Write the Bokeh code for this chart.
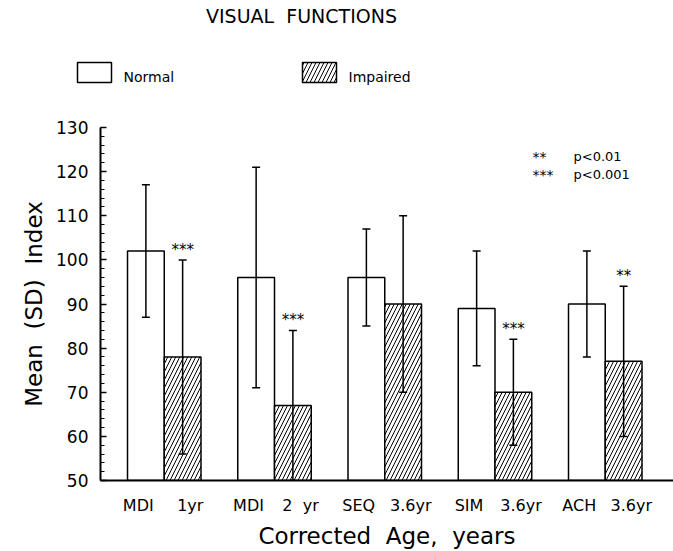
from bokeh.plotting import figure
from bokeh.layouts import column
from bokeh.models import (ColumnDataSource, Whisker, TeeHead, Label, FixedTicker, Range1d)
from bokeh.core.properties import value
from bokeh.embed import file_html
from bokeh.resources import INLINE

# ---------------- data ----------------
tests = ["MDI", "MDI", "SEQ", "SIM", "ACH"]
ages = ["1yr", "2  yr", "3.6yr", "3.6yr", "3.6yr"]
normal_mean = [102, 96, 96, 89, 90]
normal_sd = [15, 25, 11, 13, 12]
impaired_mean = [78, 67, 90, 70, 77]
impaired_sd = [22, 17, 20, 12, 17]
significance = ["***", "***", "", "***", "**"]
y_ticks = [50, 60, 70, 80, 90, 100, 110, 120, 130]
series_names = ["Normal", "Impaired"]

FONT = "DejaVu Sans"
NB = "\u00a0"


def nb(s):
    return s.replace(" ", NB)


# ---------------- layout ----------------
W, H = 673, 551
HDR = 110
L, R, T, B = 100, 0, 127, 71
frame_w = W - L - R
frame_h = H - T - B

n = len(tests)
x_norm = [3 * i + 1 for i in range(n)]
x_imp = [3 * i + 2 for i in range(n)]
x0, x1 = -0.235, 15.357
y0, y1 = 50, 130


def sx(px):
    return x0 + (px - L) / frame_w * (x1 - x0)


def sy(py):
    return y1 - (py - T) / frame_h * (y1 - y0)


# ---------------- header (title + series key) ----------------
hdr = figure(width=W, height=HDR, x_range=Range1d(0, W), y_range=Range1d(HDR, 0),
             output_backend="svg", toolbar_location=None, min_border=0,
             min_border_left=0, min_border_right=0, min_border_top=0, min_border_bottom=0,
             x_axis_type=None, y_axis_type=None, frame_align=False)
hdr.outline_line_color = None
hdr.background_fill_color = "white"
hdr.border_fill_color = "white"
hdr.text(x=[301], y=[15], text=[nb("VISUAL  FUNCTIONS")], text_font=value(FONT),
         text_font_size="19px", text_align="center", text_baseline="middle", text_color="black")
hdr.quad(left=[77], right=[111], top=[62], bottom=[82], fill_color="white",
         line_color="black", line_width=1.5)
hdr.quad(left=[302], right=[336], top=[62], bottom=[82], fill_color="white",
         line_color="black", line_width=1.5, hatch_pattern="/", hatch_color="black",
         hatch_scale=8, hatch_weight=1)
hdr.text(x=[123, 348], y=[76, 76], text=series_names, text_font=value(FONT),
         text_font_size="14px", text_align="left", text_baseline="middle", text_color="black")

# ---------------- main plot ----------------
p = figure(width=W, height=H - HDR, x_range=Range1d(x0, x1), y_range=Range1d(y0, y1),
           output_backend="svg", toolbar_location=None, frame_align=False,
           min_border_left=L, min_border_right=R, min_border_top=T - HDR, min_border_bottom=B)
p.outline_line_color = None
p.xgrid.visible = False
p.ygrid.visible = False
p.background_fill_color = "white"
p.border_fill_color = "white"

# bars
p.vbar(x=x_norm, top=normal_mean, bottom=y0, width=1.0, fill_color="white",
       line_color="black", line_width=1.5)
p.vbar(x=x_imp, top=impaired_mean, bottom=y0, width=1.0, fill_color="white",
       hatch_pattern="/", hatch_color="black", hatch_scale=8, hatch_weight=1,
       line_color="black", line_width=1.5)

# error bars
err = ColumnDataSource(dict(
    x=x_norm + x_imp,
    upper=[m + s for m, s in zip(normal_mean, normal_sd)] + [m + s for m, s in zip(impaired_mean, impaired_sd)],
    lower=[max(y0, m - s) for m, s in zip(normal_mean, normal_sd)] + [max(y0, m - s) for m, s in zip(impaired_mean, impaired_sd)],
))
wh = Whisker(base="x", upper="upper", lower="lower", source=err, line_width=1.5, line_color="black",
             upper_head=TeeHead(size=8, line_width=1.5, line_color="black"),
             lower_head=TeeHead(size=8, line_width=1.5, line_color="black"),
             level="overlay")
p.add_layout(wh)

# significance markers
sig_x = [x for x, s in zip(x_imp, significance) if s]
sig_y = [m + sd + 2.3 for m, sd, s in zip(impaired_mean, impaired_sd, significance) if s]
sig_t = [s for s in significance if s]
p.text(x=sig_x, y=sig_y, text=sig_t, text_font=value(FONT), text_font_size="15px",
       text_align="center", text_baseline="middle", text_color="black")

# axes
ya = p.yaxis[0]
ya.ticker = FixedTicker(ticks=y_ticks, minor_ticks=list(range(50, 131, 2)))
ya.major_tick_in = 6
ya.major_tick_out = 0
ya.minor_tick_in = 4
ya.minor_tick_out = 0
ya.minor_tick_line_color = "black"
ya.minor_tick_line_width = 1
ya.axis_line_width = 2
ya.major_tick_line_width = 1.5
ya.major_label_text_font = FONT
ya.major_label_text_font_size = "17px"
ya.major_label_text_color = "black"
ya.major_label_standoff = 12
ya.axis_label = nb("Mean  (SD)  Index")
ya.axis_label_text_font = FONT
ya.axis_label_text_font_size = "23px"
ya.axis_label_text_font_style = "normal"
ya.axis_label_text_color = "black"
ya.axis_label_standoff = 6

xa = p.xaxis[0]
xa.ticker = FixedTicker(ticks=x_norm + x_imp)
overrides = {}
for i in range(n):
    overrides[x_norm[i]] = tests[i] + NB * 3
    overrides[x_imp[i]] = NB * 3 + nb(ages[i])
xa.major_label_overrides = overrides
xa.major_tick_line_color = None
xa.minor_tick_line_color = None
xa.axis_line_width = 2
xa.major_label_text_font = FONT
xa.major_label_text_font_size = "16px"
xa.major_label_text_color = "black"
xa.major_label_standoff = 9
xa.axis_label = nb("Corrected  Age,  years")
xa.axis_label_text_font = FONT
xa.axis_label_text_font_size = "23px"
xa.axis_label_text_font_style = "normal"
xa.axis_label_text_color = "black"
xa.axis_label_standoff = 5

# p-value key
for row, (stars, txt) in enumerate([("**", "p<0.01"), ("***", "p<0.001")]):
    py = 156 + 18 * row
    p.add_layout(Label(x=sx(532), y=sy(py), text=stars, text_font=FONT,
                       text_font_size="14px", text_align="left", text_baseline="middle",
                       text_color="black"))
    p.add_layout(Label(x=sx(573), y=sy(py), text=txt, text_font=FONT,
                       text_font_size="13px", text_align="left", text_baseline="middle",
                       text_color="black"))

layout = column(hdr, p, spacing=0)
open("out.html", "w").write(file_html(layout, INLINE))
